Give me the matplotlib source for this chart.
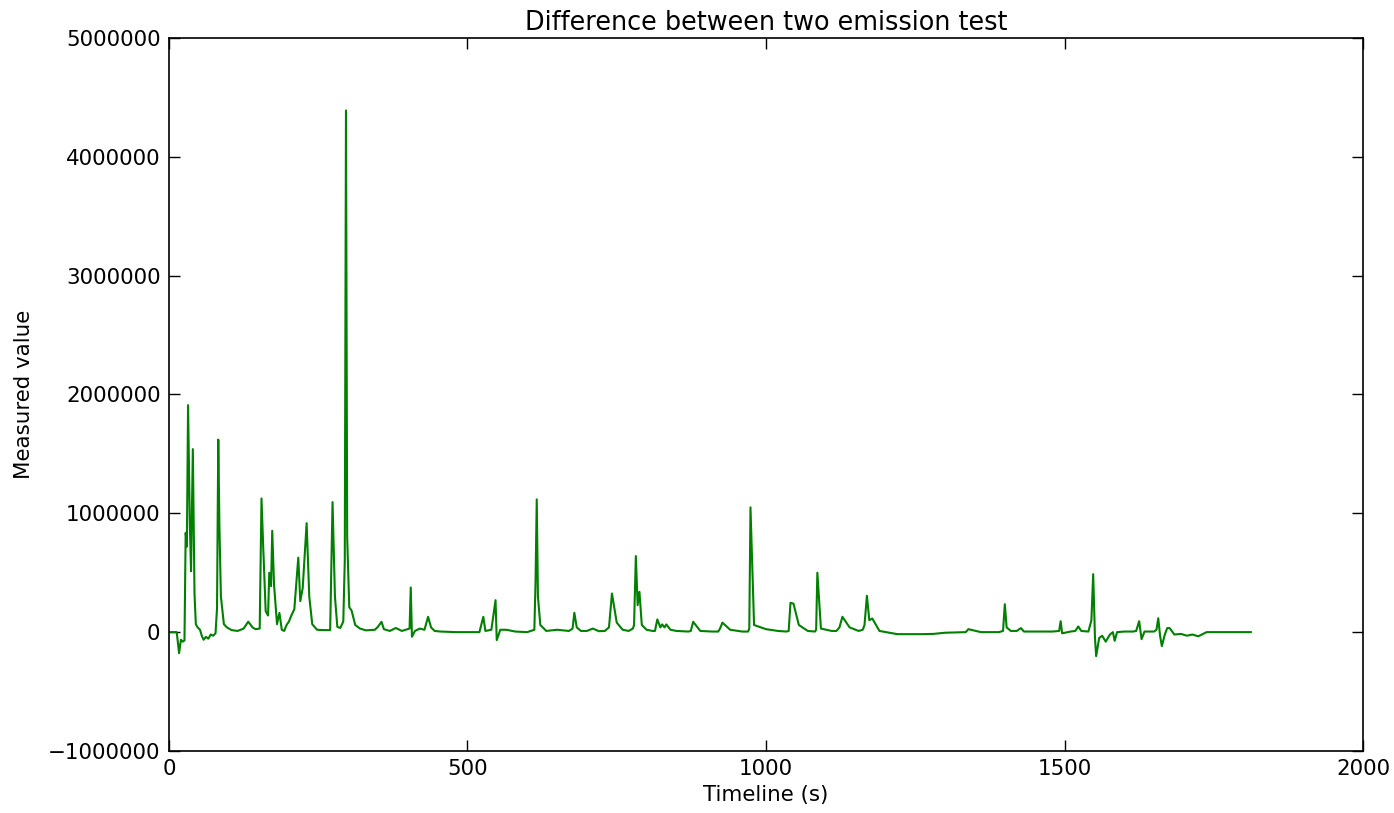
import matplotlib
matplotlib.use("Agg")
import matplotlib.pyplot as plt

time_s = [
    0, 13, 17, 20, 23, 26, 28, 30, 32, 35, 37, 40, 42.8, 45, 48, 52, 55, 58, 62, 66, 70, 74, 78,
    80.5, 82.6, 84.5, 87, 92, 97, 105, 115, 125, 132.8, 140, 145, 152, 155, 158, 162, 166, 168, 171,
    173, 176, 181, 185, 189, 193, 197, 201, 205, 210, 216.6, 220, 224, 230.6, 235, 240, 248, 260,
    270, 274, 278, 282, 287, 292, 294.5, 296.5, 298.5, 302, 306, 312, 320, 330, 345, 350, 356, 360,
    370, 380, 390, 403, 405, 407, 412, 420, 428, 434, 439, 445, 455, 480, 520, 526.5, 530, 540,
    547, 549, 555, 565, 580, 600, 612, 614, 616, 618, 622, 632, 650, 670, 676, 679, 683, 690,
    700, 710, 720, 730, 737, 742, 750, 760, 770, 777, 779, 782, 785, 788, 792, 800, 810, 814,
    818, 823, 826, 830, 833, 840, 850, 870, 874, 878, 890, 910, 920, 923, 927, 940, 960, 970,
    972, 974, 980, 1000, 1020, 1034, 1038, 1041, 1046, 1055, 1070, 1082, 1084, 1086, 1092, 1110,
    1118, 1123, 1128, 1140, 1155, 1162, 1165, 1169, 1173, 1178, 1190, 1220, 1260, 1280, 1300,
    1330, 1334.5, 1339, 1360, 1390, 1397, 1400, 1403, 1410, 1420, 1427, 1432, 1440, 1480, 1491,
    1493.5, 1496, 1510, 1518, 1523, 1528, 1540, 1545, 1548, 1551, 1553, 1558, 1563, 1569, 1576,
    1581, 1584, 1588, 1600, 1615, 1620, 1625, 1629, 1634, 1650, 1654, 1657, 1660, 1663, 1668,
    1672, 1676, 1684, 1695, 1705, 1714, 1724, 1738, 1760, 1790, 1812,
]

measured_value = [
    0, 0, -177000, -64000, -80000, -70000, 836000, 720000, 1910000, 900000, 513000, 1540000,
    322000, 67000, 40000, 20000, -30000, -64000, -40000, -55000, -20000, -30000, -10000,
    200000, 1620000, 900000, 300000, 67000, 40000, 17000, 10000, 30000, 88000, 40000, 25000,
    30000, 1125000, 700000, 177000, 140000, 500000, 387000, 853000, 400000, 67000, 162000, 20000,
    10000, 60000, 90000, 140000, 193000, 627000, 261000, 370000, 917000, 300000, 67000, 20000,
    17000, 17000, 1094000, 300000, 45000, 35000, 90000, 600000, 4390000, 800000, 210000, 180000,
    60000, 30000, 15000, 20000, 45000, 87000, 25000, 10000, 35000, 10000, 30000, 376000, -39000,
    10000, 30000, 20000, 129000, 40000, 10000, 5000, 0, 0, 129000, 10000, 20000, 269000, -67000,
    20000, 20000, 5000, 0, 20000, 423000, 1117000, 300000, 60000, 10000, 20000, 10000, 30000,
    163000, 40000, 10000, 10000, 30000, 8000, 10000, 40000, 325000, 80000, 20000, 10000, 30000,
    60000, 640000, 227000, 339000, 60000, 20000, 10000, 10000, 107000, 40000, 65000, 40000,
    65000, 20000, 10000, 5000, 10000, 87000, 10000, 5000, 5000, 30000, 80000, 20000, 5000, 5000,
    30000, 1050000, 60000, 25000, 10000, 5000, 10000, 247000, 240000, 60000, 10000, 5000, 20000,
    500000, 30000, 10000, 10000, 40000, 129000, 40000, 10000, 20000, 60000, 306000, 100000,
    115000, 10000, -17000, -17000, -15000, -5000, 0, 0, 25000, 0, 0, 10000, 235000, 40000,
    10000, 10000, 34000, 5000, 5000, 5000, 10000, 92000, -10000, 5000, 10000, 48000, 10000,
    5000, 100000, 488000, -50000, -202000, -50000, -30000, -80000, -20000, 0, -73000, 0, 5000,
    5000, 10000, 92000, -59000, 5000, 5000, 20000, 117000, -30000, -118000, -20000, 34000, 34000,
    -20000, -15000, -30000, -20000, -35000, 0, 0, 0, 0,
]

x_limits = (0, 2000)
y_limits = (-1000000, 5000000)
x_ticks = [0, 500, 1000, 1500, 2000]
y_ticks = [-1000000, 0, 1000000, 2000000, 3000000, 4000000, 5000000]

fig = plt.figure(figsize=(13.94, 8.13), dpi=100, facecolor="white")
ax = fig.add_axes([0.1212, 0.0763, 0.8566, 0.877])
ax.plot(time_s, measured_value, color="green", linewidth=1.5)
ax.set_xlim(*x_limits)
ax.set_ylim(*y_limits)
ax.set_xticks(x_ticks)
ax.set_yticks(y_ticks)
ax.set_xticklabels([str(v) for v in x_ticks])
ax.set_yticklabels([f"{v}".replace("-", "\u2212") for v in y_ticks])
ax.tick_params(direction="in", top=True, right=True, length=8, width=1, labelsize=15.4, pad=6)
for sp in ax.spines.values():
    sp.set_linewidth(1.2)
ax.set_title("Difference between two emission test", fontsize=18.4, pad=6)
ax.set_xlabel("Timeline (s)", fontsize=15.4, labelpad=4)
ax.set_ylabel("Measured value", fontsize=15.4, labelpad=10)
fig.savefig("out.png", dpi=100, facecolor="white")
